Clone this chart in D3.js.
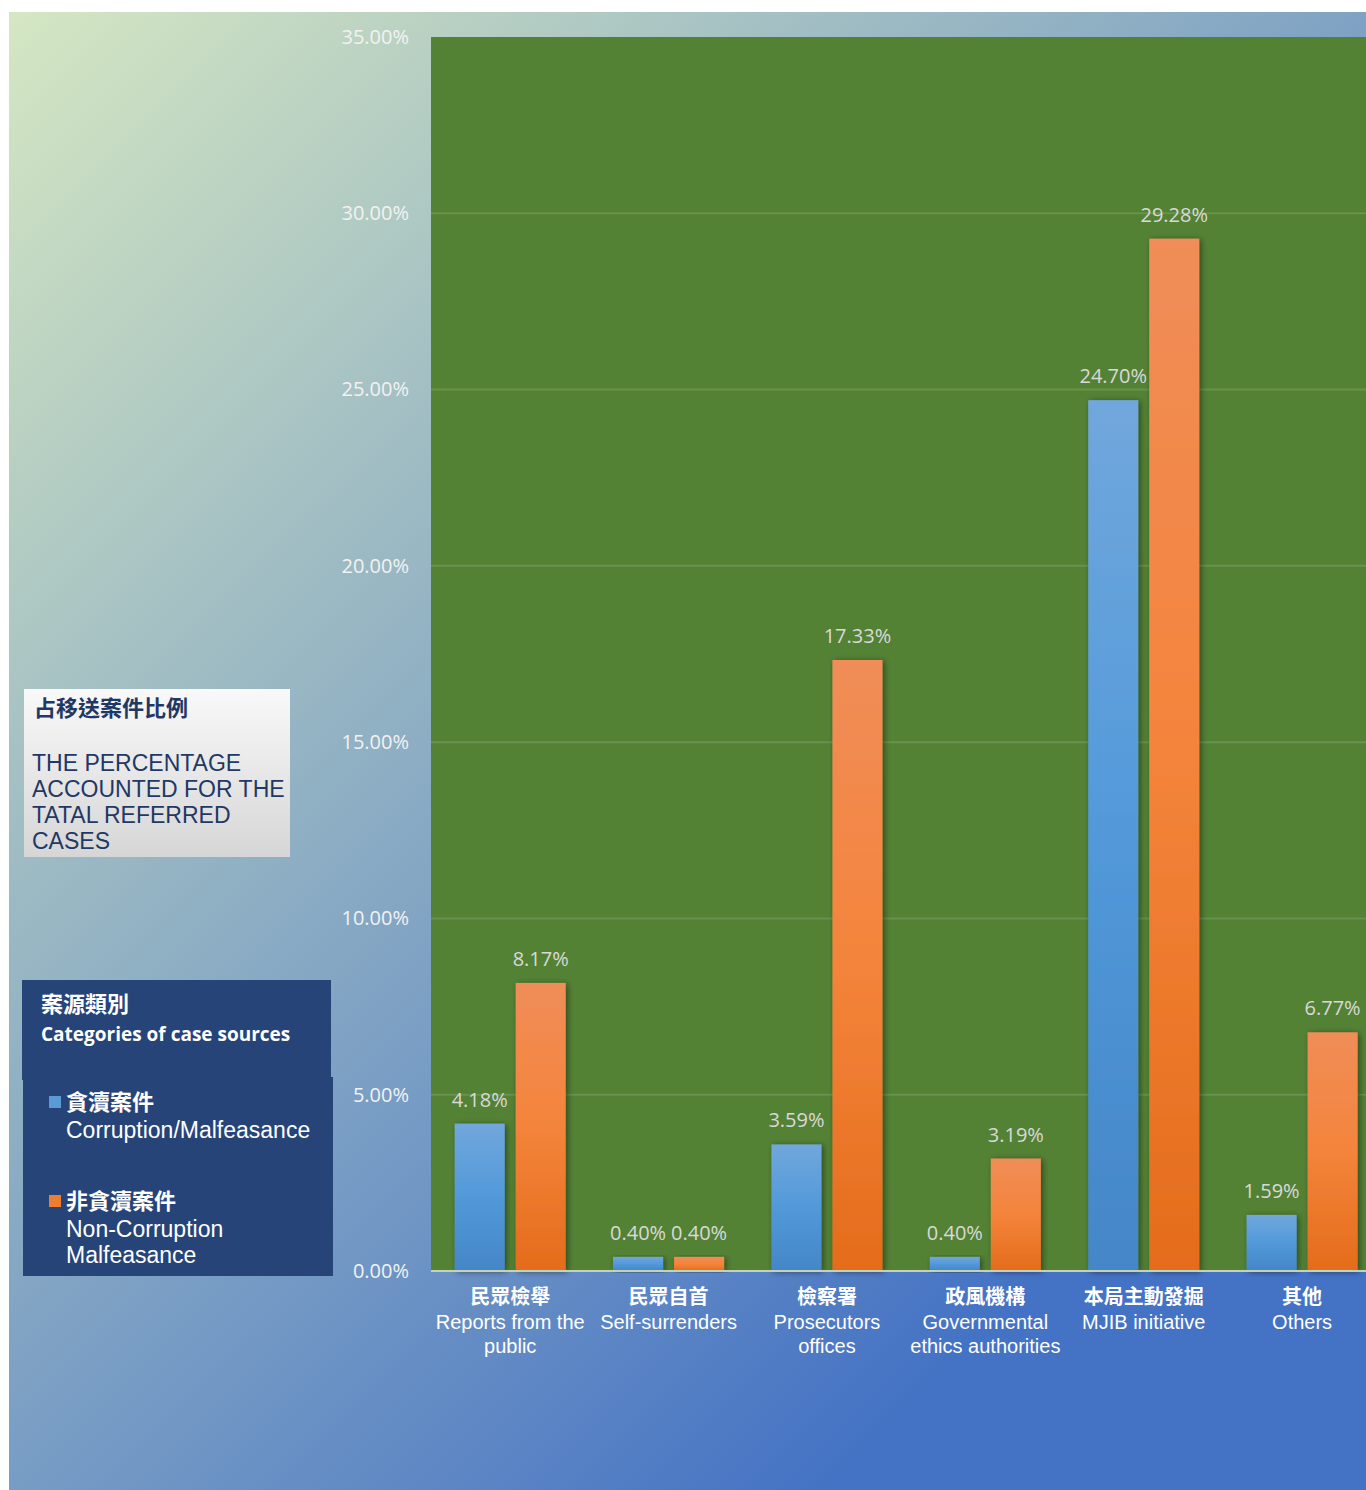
<!DOCTYPE html>
<html>
<head>
<meta charset="utf-8">
<script src="https://cdn.jsdelivr.net/npm/d3@7"></script>
<style>
  html, body { margin: 0; padding: 0; background: #ffffff; }
  svg { display: block; }
</style>
</head>
<body>
<div id="chart"></div>
<script>
// Case-source categories (Chinese / English lines)
const categoriesZh = ["民眾檢舉", "民眾自首", "檢察署", "政風機構", "本局主動發掘", "其他"];
const categoriesEn = [
  ["Reports from the", "public"],
  ["Self-surrenders"],
  ["Prosecutors", "offices"],
  ["Governmental", "ethics authorities"],
  ["MJIB initiative"],
  ["Others"]
];
// Percentage of total referred cases
const corruption = [4.18, 0.40, 3.59, 0.40, 24.70, 1.59];
const nonCorruption = [8.17, 0.40, 17.33, 3.19, 29.28, 6.77];
const seriesKeys = ["corruption", "nonCorruption"];
const yTicks = [0, 5, 10, 15, 20, 25, 30, 35];

const W = 1366, H = 1490;
const plot = { left: 431, top: 37, bottom: 1271, right: 1366, bandRight: 1381.3 };

const svg = d3.select("#chart").append("svg")
  .attr("width", W).attr("height", H);

const defs = svg.append("defs");

// diagonal page background
const bg = defs.append("linearGradient").attr("id", "bgGrad")
  .attr("gradientUnits", "userSpaceOnUse")
  .attr("x1", 9).attr("y1", 12).attr("x2", 1160).attr("y2", 1163);
bg.append("stop").attr("offset", 0).attr("stop-color", "#d5e7c2");
bg.append("stop").attr("offset", 0.3).attr("stop-color", "#a9c4c3");
bg.append("stop").attr("offset", 0.62).attr("stop-color", "#7b9fc4");
bg.append("stop").attr("offset", 1).attr("stop-color", "#4472c4");

const blueGrad = defs.append("linearGradient").attr("id", "blueGrad")
  .attr("x1", 0).attr("y1", 0).attr("x2", 0).attr("y2", 1);
blueGrad.append("stop").attr("offset", 0).attr("stop-color", "#71a7dc");
blueGrad.append("stop").attr("offset", 0.5).attr("stop-color", "#5299da");
blueGrad.append("stop").attr("offset", 1).attr("stop-color", "#4486c8");

const orangeGrad = defs.append("linearGradient").attr("id", "orangeGrad")
  .attr("x1", 0).attr("y1", 0).attr("x2", 0).attr("y2", 1);
orangeGrad.append("stop").attr("offset", 0).attr("stop-color", "#f08d58");
orangeGrad.append("stop").attr("offset", 0.5).attr("stop-color", "#f4843b");
orangeGrad.append("stop").attr("offset", 1).attr("stop-color", "#e46c1b");

const titleGrad = defs.append("linearGradient").attr("id", "titleGrad")
  .attr("x1", 0).attr("y1", 0).attr("x2", 0).attr("y2", 1);
titleGrad.append("stop").attr("offset", 0).attr("stop-color", "#f9f9f9");
titleGrad.append("stop").attr("offset", 1).attr("stop-color", "#d6d6d6");

const shadow = defs.append("filter").attr("id", "barShadow")
  .attr("x", "-30%").attr("y", "-10%").attr("width", "160%").attr("height", "120%");
shadow.append("feDropShadow").attr("dx", 2).attr("dy", 1).attr("stdDeviation", 3)
  .attr("flood-color", "#000").attr("flood-opacity", 0.45);

// background
svg.append("rect").attr("x", 9).attr("y", 12).attr("width", W - 9).attr("height", H - 12)
  .attr("fill", "url(#bgGrad)");

// plot area
svg.append("rect").attr("x", plot.left).attr("y", plot.top)
  .attr("width", plot.right - plot.left).attr("height", plot.bottom - plot.top)
  .attr("fill", "#548235");

const x0 = d3.scaleBand().domain(categoriesZh).range([plot.left, plot.bandRight])
  .paddingInner(0).paddingOuter(0);
const x1 = d3.scaleBand().domain(seriesKeys).range([0, x0.bandwidth()])
  .paddingInner(0.18).paddingOuter(0.388);
const y = d3.scaleLinear().domain([0, 35]).range([plot.bottom, plot.top]);

// gridlines
svg.append("g").selectAll("line").data(yTicks.filter(d => d > 0 && d < 35)).join("line")
  .attr("x1", plot.left).attr("x2", plot.right)
  .attr("y1", d => y(d)).attr("y2", d => y(d))
  .attr("stroke", "#ffffff").attr("stroke-opacity", 0.13).attr("stroke-width", 2);

// y axis labels
const yAxis = svg.append("g").attr("transform", `translate(${plot.left},0)`)
  .call(d3.axisLeft(y).tickValues(yTicks).tickSize(0).tickPadding(22)
    .tickFormat(d => d3.format(".2f")(d) + "%"));
yAxis.select(".domain").remove();
yAxis.selectAll("text")
  .attr("fill", "#f2f2f2")
  .style("font-family", "'Open Sans', sans-serif")
  .style("font-size", "20px");

// bars
const rows = categoriesZh.map((c, i) => ({
  cat: c,
  values: [
    { key: "corruption", value: corruption[i] },
    { key: "nonCorruption", value: nonCorruption[i] }
  ]
}));

const groups = svg.append("g").selectAll("g").data(rows).join("g")
  .attr("transform", d => `translate(${x0(d.cat)},0)`);

groups.selectAll("rect").data(d => d.values).join("rect")
  .attr("x", d => x1(d.key))
  .attr("y", d => y(d.value))
  .attr("width", x1.bandwidth())
  .attr("height", d => y(0) - y(d.value))
  .attr("fill", d => d.key === "corruption" ? "url(#blueGrad)" : "url(#orangeGrad)")
  .attr("filter", "url(#barShadow)");

groups.selectAll("text.val").data(d => d.values).join("text")
  .attr("class", "val")
  .attr("x", d => x1(d.key) + x1.bandwidth() / 2)
  .attr("y", d => y(d.value) - 17)
  .attr("text-anchor", "middle")
  .attr("fill", "#d9d9d9")
  .style("font-family", "'Open Sans', sans-serif")
  .style("font-size", "20px")
  .text(d => d3.format(".2f")(d.value) + "%");

// zero line
svg.append("line").attr("x1", plot.left).attr("x2", plot.right)
  .attr("y1", y(0)).attr("y2", y(0))
  .attr("stroke", "#c4d3b6").attr("stroke-width", 2);

// category labels
const xl = svg.append("g").selectAll("g").data(categoriesZh).join("g")
  .attr("transform", d => `translate(${x0(d) + x0.bandwidth() / 2},0)`);
xl.append("text")
  .attr("y", 1304).attr("text-anchor", "middle").attr("fill", "#ffffff")
  .style("font-family", "'Noto Sans CJK TC', sans-serif")
  .style("font-weight", "bold").style("font-size", "20px")
  .text(d => d);
xl.each(function(d, i) {
  d3.select(this).selectAll("text.en").data(categoriesEn[i]).join("text")
    .attr("class", "en")
    .attr("y", (t, j) => 1329 + j * 24)
    .attr("text-anchor", "middle").attr("fill", "#ffffff")
    .style("font-family", "'Liberation Sans', Arial, sans-serif")
    .style("font-size", "20px")
    .text(t => t);
});

// axis title box
const tb = svg.append("g");
tb.append("rect").attr("x", 24).attr("y", 689).attr("width", 266).attr("height", 168)
  .attr("fill", "url(#titleGrad)");
tb.append("text").attr("x", 34).attr("y", 716).attr("fill", "#1f3864")
  .style("font-family", "'Noto Sans CJK TC', sans-serif")
  .style("font-weight", "bold").style("font-size", "22px")
  .text("占移送案件比例");
const titleEn = ["THE PERCENTAGE", "ACCOUNTED FOR THE", "TATAL REFERRED", "CASES"];
tb.selectAll("text.en").data(titleEn).join("text").attr("class", "en")
  .attr("x", 32).attr("y", (d, i) => 771 + i * 26).attr("fill", "#1f3864")
  .style("font-family", "'Liberation Sans', Arial, sans-serif")
  .style("font-size", "23px")
  .text(d => d);

// legend box
const lg = svg.append("g");
lg.append("rect").attr("x", 22).attr("y", 980).attr("width", 309).attr("height", 100)
  .attr("fill", "#264478");
lg.append("rect").attr("x", 23).attr("y", 1077).attr("width", 310).attr("height", 199)
  .attr("fill", "#264478");
lg.append("text").attr("x", 41).attr("y", 1012).attr("fill", "#ffffff")
  .style("font-family", "'Noto Sans CJK TC', sans-serif")
  .style("font-weight", "bold").style("font-size", "22px")
  .text("案源類別");
lg.append("text").attr("x", 41).attr("y", 1041).attr("fill", "#ffffff")
  .style("font-family", "'Open Sans', sans-serif")
  .style("font-weight", "bold").style("font-size", "19px")
  .text("Categories of case sources");

const legendItems = [
  { zh: "貪瀆案件", en: ["Corruption/Malfeasance"], color: "#5b9bd5", y: 1110 },
  { zh: "非貪瀆案件", en: ["Non-Corruption", "Malfeasance"], color: "#ed7d31", y: 1209 }
];
const li = lg.selectAll("g.item").data(legendItems).join("g").attr("class", "item");
li.append("rect").attr("x", 49).attr("y", d => d.y - 14).attr("width", 12).attr("height", 12)
  .attr("fill", d => d.color);
li.append("text").attr("x", 66).attr("y", d => d.y).attr("fill", "#ffffff")
  .style("font-family", "'Noto Sans CJK TC', sans-serif")
  .style("font-weight", "bold").style("font-size", "22px")
  .text(d => d.zh);
li.each(function(d) {
  d3.select(this).selectAll("text.en").data(d.en).join("text").attr("class", "en")
    .attr("x", 66).attr("y", (t, j) => d.y + 28 + j * 26).attr("fill", "#ffffff")
    .style("font-family", "'Liberation Sans', Arial, sans-serif")
    .style("font-size", "23px")
    .text(t => t);
});
</script>
</body>
</html>
